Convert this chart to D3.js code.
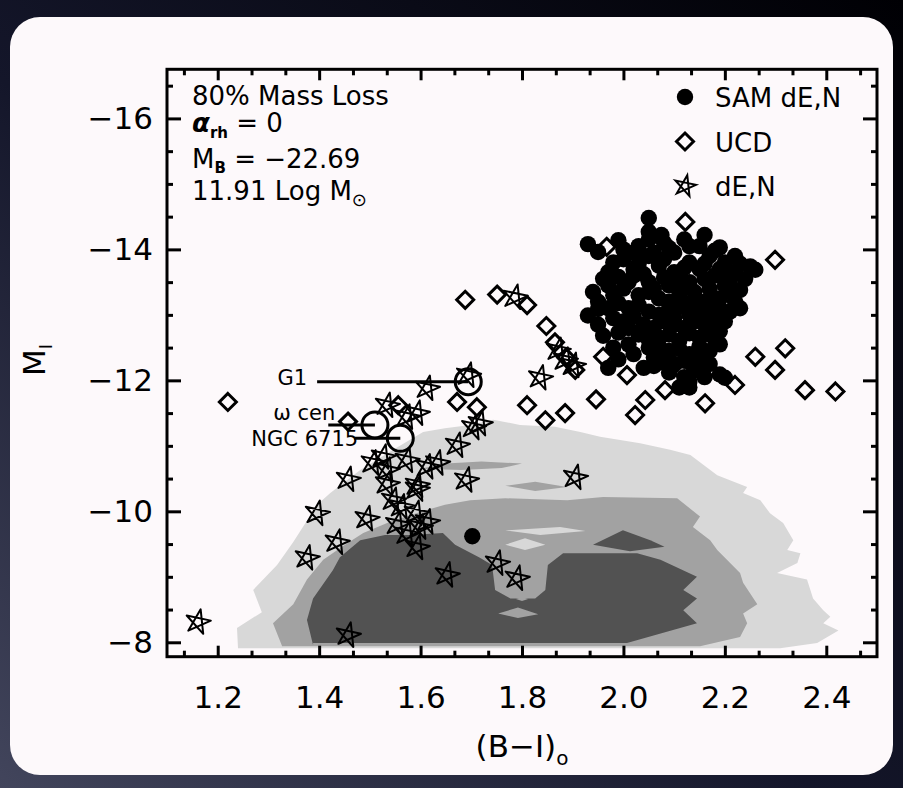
<!DOCTYPE html>
<html>
<head>
<meta charset="utf-8">
<script src="https://cdn.jsdelivr.net/npm/d3@7"></script>
<style>
  body { margin: 0; background: #000; }
  svg { display: block; }
  text { font-family: "DejaVu Sans", sans-serif; fill: #000; }
</style>
</head>
<body>
<svg id="chart" width="903" height="788"></svg>
<script>
// ---- Data: (B-I)o colour and M_I magnitude ----

// SAM nucleated dwarf ellipticals
const samDEN = [
  [2.05,-14.48],[2.05,-14.27],[2.075,-14.22],[1.99,-14.14],[1.93,-14.08],[1.95,-13.96],
  [1.98,-13.80],[2.16,-14.22],[2.19,-14.03],[2.22,-13.90],[2.25,-13.74],[2.26,-13.69],
  [2.23,-13.38],[2.21,-13.53],[1.93,-12.99],[1.95,-13.09],[1.96,-12.68],[1.99,-12.73],
  [2.01,-12.55],[1.98,-12.50],[1.97,-12.19],[2.04,-12.19],[2.06,-12.35],[2.07,-12.27],
  [2.11,-11.89],[2.13,-11.89],[2.16,-12.24],[2.18,-12.64],[2.21,-13.05],[2.19,-12.09],
  [2.20,-12.04],[1.98,-13.30],[2.02,-13.69],
  [2.03,-14.05],[2.08,-14.10],[2.12,-14.15],[2.15,-14.05],[2.10,-13.95],[2.05,-13.90],
  [2.00,-13.85],[2.17,-13.90],[2.20,-13.80],[2.13,-13.80],[2.07,-13.75],[2.02,-13.60],
  [2.10,-13.65],[2.15,-13.70],[2.18,-13.60],[2.22,-13.65],[2.05,-13.50],[2.09,-13.45],
  [2.13,-13.50],[2.17,-13.40],[2.20,-13.45],[2.00,-13.40],[2.03,-13.30],[2.07,-13.25],
  [2.11,-13.30],[2.15,-13.20],[2.19,-13.25],[2.22,-13.20],[1.97,-13.10],[2.01,-13.10],
  [2.05,-13.05],[2.09,-13.10],[2.13,-13.00],[2.17,-13.05],[2.20,-12.90],[2.00,-12.90],
  [2.04,-12.85],[2.08,-12.90],[2.12,-12.80],[2.16,-12.85],[2.19,-12.75],[2.03,-12.70],
  [2.07,-12.65],[2.11,-12.60],[2.15,-12.65],[2.05,-12.50],[2.09,-12.45],[2.13,-12.40],
  [2.17,-12.45],[2.10,-12.25],[2.14,-12.15],[2.12,-12.05],[2.08,-12.35],[2.15,-12.30],
  [2.06,-13.95],[2.11,-13.55],[2.14,-13.35],[2.06,-13.40],[2.10,-12.95],[2.02,-13.95],
  [2.05,-14.15],[2.09,-14.02],[2.13,-14.05],[2.18,-13.98],[2.03,-13.78],[2.08,-13.85],
  [2.12,-13.72],[2.16,-13.78],[2.19,-13.70],[2.24,-13.55],[1.99,-13.58],[2.04,-13.62],
  [2.08,-13.57],[2.12,-13.42],[2.16,-13.55],[2.20,-13.58],[1.97,-13.45],[2.01,-13.50],
  [2.05,-13.35],[2.09,-13.20],[2.13,-13.18],[2.17,-13.25],[2.21,-13.35],[1.95,-13.20],
  [1.99,-13.18],[2.03,-13.15],[2.07,-13.00],[2.11,-13.12],[2.15,-13.00],[2.19,-13.10],
  [2.23,-13.10],[1.98,-12.95],[2.02,-12.98],[2.06,-12.80],[2.10,-12.85],[2.14,-12.90],
  [2.18,-12.92],[2.01,-12.80],[2.05,-12.62],[2.09,-12.70],[2.13,-12.72],[2.17,-12.70],
  [2.02,-12.40],[2.07,-12.52],[2.11,-12.48],[2.15,-12.52],[2.19,-12.55],[2.06,-12.22],
  [2.12,-12.30],[2.17,-12.25],[2.09,-12.12],[2.13,-11.98],[2.16,-12.05],[1.95,-12.85],
  [1.96,-13.55],[1.97,-13.65],[1.94,-13.35],[1.99,-12.32],[2.23,-13.78],[2.00,-14.00],
  [1.702,-9.62]
];

// Ultra-compact dwarfs
const ucd = [
  [1.220,-11.67],[1.457,-11.37],[1.556,-11.62],[1.672,-11.67],[1.711,-11.59],
  [1.688,-13.23],[1.751,-13.31],[1.810,-13.15],[1.848,-12.83],[1.865,-12.58],
  [1.887,-12.35],[1.905,-12.16],[1.810,-11.62],[1.846,-11.39],[1.885,-11.50],
  [1.946,-11.71],[2.122,-14.42],[2.299,-13.84],[2.260,-12.36],[2.319,-12.49],
  [2.299,-12.16],[2.358,-11.85],[2.418,-11.83],[2.220,-11.93],[2.161,-11.65],
  [2.082,-11.85],[2.043,-11.70],[2.023,-11.47],[2.007,-12.08],[2.118,-12.11],
  [1.967,-14.04],[1.960,-12.36]
];

// Observed nucleated dwarf ellipticals
const dEN = [
  [1.694,-12.08],[1.613,-11.88],[1.534,-11.62],[1.573,-11.44],[1.593,-11.50],
  [1.704,-11.28],[1.717,-11.34],[1.672,-11.01],[1.457,-10.49],[1.506,-10.74],
  [1.526,-10.83],[1.534,-10.63],[1.573,-10.78],[1.613,-10.68],[1.633,-10.74],
  [1.593,-10.40],[1.690,-10.48],[1.396,-9.97],[1.494,-9.89],[1.546,-10.17],
  [1.562,-10.07],[1.591,-9.97],[1.613,-9.84],[1.534,-10.42],[1.593,-10.34],
  [1.554,-9.80],[1.573,-9.65],[1.593,-9.45],[1.599,-9.76],[1.435,-9.53],
  [1.376,-9.29],[1.652,-9.03],[1.751,-9.21],[1.790,-8.98],[1.161,-8.31],
  [1.457,-8.11],[1.905,-10.52],[1.836,-12.04],[1.871,-12.46],[1.885,-12.31],
  [1.901,-12.23],[1.786,-13.27]
];

// Galactic / M31 massive globular clusters
const gcNames  = ["G1", "ω cen", "NGC 6715"];
const gcColour = [1.694, 1.510, 1.560];
const gcMag    = [-11.98, -11.32, -11.115];
const gcLeadFrom = [1.396, 1.418, 1.469];

// Density contours of the simulated population (outer to inner)
const contourLight = [
  [1.240,-7.91],[1.238,-8.22],[1.287,-8.46],[1.270,-8.80],[1.317,-9.18],[1.349,-9.53],
  [1.396,-10.10],[1.422,-10.28],[1.481,-10.63],[1.546,-10.94],[1.605,-11.21],[1.648,-11.27],
  [1.698,-11.32],[1.743,-11.40],[1.796,-11.32],[1.865,-11.29],[1.915,-11.21],[1.954,-11.14],
  [2.033,-11.04],[2.092,-10.94],[2.132,-10.86],[2.185,-10.55],[2.244,-10.37],[2.236,-10.28],
  [2.270,-10.17],[2.289,-9.97],[2.315,-9.82],[2.335,-9.56],[2.323,-9.41],[2.349,-9.36],
  [2.343,-9.21],[2.303,-9.06],[2.362,-8.96],[2.374,-8.67],[2.394,-8.49],[2.408,-8.39],
  [2.394,-8.29],[2.424,-8.18],[2.382,-7.99],[2.309,-7.91]
];
const contourMid = [
  [1.327,-7.94],[1.309,-8.29],[1.349,-8.58],[1.376,-8.96],[1.408,-9.26],[1.451,-9.49],
  [1.487,-9.67],[1.540,-9.84],[1.599,-9.99],[1.648,-10.10],[1.698,-10.17],[1.767,-10.20],
  [1.889,-10.17],[1.960,-10.22],[2.106,-10.20],[2.151,-9.92],[2.137,-9.76],[2.171,-9.56],
  [2.185,-9.41],[2.230,-9.06],[2.236,-8.91],[2.264,-8.58],[2.236,-8.44],[2.244,-8.29],
  [2.230,-8.08],[2.151,-7.94]
];
const contourDark = [
  [1.388,-7.96],[1.376,-8.34],[1.388,-8.67],[1.427,-9.10],[1.441,-9.30],[1.481,-9.56],
  [1.530,-9.64],[1.579,-9.64],[1.644,-9.67],[1.668,-9.49],[1.717,-9.29],[1.741,-9.18],
  [1.747,-8.80],[1.777,-8.67],[1.826,-8.67],[1.846,-8.80],[1.851,-9.18],[1.881,-9.36],
  [1.954,-9.36],[2.027,-9.36],[2.073,-9.26],[2.145,-9.00],[2.118,-8.80],[2.145,-8.67],
  [2.118,-8.49],[2.145,-8.29],[2.007,-7.99],[1.388,-7.99]
];
const islandsMid = [
  [[1.599,-10.65],[1.650,-10.73],[1.720,-10.76],[1.800,-10.73],[1.760,-10.66],[1.680,-10.63]],
  [[1.767,-10.39],[1.826,-10.45],[1.889,-10.37],[1.826,-10.31]],
  [[1.753,-8.44],[1.792,-8.53],[1.832,-8.43],[1.792,-8.37]],
  [[1.788,-8.66],[1.800,-8.69],[1.812,-8.66],[1.800,-8.63]]
];
const islandsLight = [
  [[1.767,-9.49],[1.806,-9.59],[1.846,-9.49],[1.806,-9.41]],
  [[1.767,-9.71],[1.875,-9.76],[1.925,-9.70],[1.836,-9.64]]
];
const islandsDark = [
  [[1.940,-9.49],[1.999,-9.71],[2.053,-9.56],[2.081,-9.46],[2.013,-9.39]]
];

// Axis ticks
const xMajor = [1.2, 1.4, 1.6, 1.8, 2.0, 2.2, 2.4];
const yMajor = [-16, -14, -12, -10, -8];

// ---- Layout ----
const W = 903, H = 788;
const plot = { left: 167, right: 877, top: 69.3, bottom: 656.7 };

const svg = d3.select("#chart");
const defs = svg.append("defs");

const bg = defs.append("linearGradient").attr("id", "bg")
  .attr("x1", 1).attr("y1", 0).attr("x2", 0).attr("y2", 1);
bg.append("stop").attr("offset", 0).attr("stop-color", "#000004");
bg.append("stop").attr("offset", 0.55).attr("stop-color", "#14162a");
bg.append("stop").attr("offset", 1).attr("stop-color", "#42455c");
svg.append("rect").attr("width", W).attr("height", H).attr("fill", "url(#bg)");
svg.append("rect").attr("x", 10).attr("y", 17).attr("width", 883).attr("height", 758)
  .attr("rx", 30).attr("fill", "#fdf9fb");

defs.append("clipPath").attr("id", "plotClip").append("rect")
  .attr("x", plot.left).attr("y", plot.top)
  .attr("width", plot.right - plot.left).attr("height", plot.bottom - plot.top);

const x = d3.scaleLinear().domain([1.1, 2.5]).range([plot.left, plot.right]);
const y = d3.scaleLinear().domain([-7.78, -16.75]).range([plot.bottom, plot.top]);

// ---- Contours ----
const area = d3.line().x(d => x(d[0])).y(d => y(d[1])).curve(d3.curveLinearClosed);
const cg = svg.append("g").attr("clip-path", "url(#plotClip)");
const LIGHT = "#d8d8d8", MID = "#a2a2a2", DARK = "#525252";
cg.append("path").attr("d", area(contourLight)).attr("fill", LIGHT);
cg.selectAll(".mi").data([islandsMid[0], islandsMid[1]]).join("path").attr("d", area).attr("fill", MID);
cg.append("path").attr("d", area(contourMid)).attr("fill", MID);
cg.selectAll(".li").data(islandsLight).join("path").attr("d", area).attr("fill", LIGHT);
cg.append("path").attr("d", area(contourDark)).attr("fill", DARK);
cg.selectAll(".di").data(islandsDark).join("path").attr("d", area).attr("fill", DARK);
cg.selectAll(".mi2").data([islandsMid[2], islandsMid[3]]).join("path").attr("d", area).attr("fill", MID);

// ---- Symbols ----
function starPath(R, rot) {
  const pts = d3.range(5).map(k => {
    const a = (-90 + rot + k * 72) * Math.PI / 180;
    return [R * Math.cos(a), R * Math.sin(a)];
  });
  const order = [0, 2, 4, 1, 3];
  return "M" + order.map(i => pts[i].map(v => v.toFixed(2)).join(",")).join("L") + "Z";
}
function diamondPath(h) {
  return `M0,${-h}L${h},0L0,${h}L${-h},0Z`;
}
const STAR = starPath(13, 12);
const DIAM = diamondPath(8.5);

const mg = svg.append("g").attr("clip-path", "url(#plotClip)");
mg.selectAll(".star").data(dEN).join("path")
  .attr("transform", d => `translate(${x(d[0])},${y(d[1])})`)
  .attr("d", STAR).attr("fill", "none").attr("stroke", "#000")
  .attr("stroke-width", 2).attr("stroke-linejoin", "round");
mg.selectAll(".ucd").data(ucd).join("path")
  .attr("transform", d => `translate(${x(d[0])},${y(d[1])})`)
  .attr("d", DIAM).attr("fill", "none").attr("stroke", "#000").attr("stroke-width", 3);
mg.selectAll(".sam").data(samDEN).join("circle")
  .attr("cx", d => x(d[0])).attr("cy", d => y(d[1])).attr("r", 8.2).attr("fill", "#000");

// Globular clusters with leader lines
const gcLabelDx = [-10, 7, 4];
const gcLabelDy = [3.3, -4.5, 7.5];
gcNames.forEach((name, i) => {
  const cx = x(gcColour[i]), cy = y(gcMag[i]), x0 = x(gcLeadFrom[i]);
  svg.append("line").attr("x1", x0).attr("x2", cx).attr("y1", cy).attr("y2", cy)
    .attr("stroke", "#000").attr("stroke-width", 3);
  svg.append("circle").attr("cx", cx).attr("cy", cy).attr("r", 13)
    .attr("fill", "none").attr("stroke", "#000").attr("stroke-width", 3);
  svg.append("text").attr("x", x0 + gcLabelDx[i]).attr("y", cy + gcLabelDy[i])
    .attr("text-anchor", "end").attr("font-size", 21).text(name);
});

// ---- Axes (ticks inside on all four sides) ----
function styleAxis(g) {
  g.select(".domain").remove();
  g.selectAll(".tick line").attr("stroke", "#000").attr("stroke-width", 3);
  g.selectAll(".tick text").attr("font-size", 31).attr("fill", "#000");
}
const xMinor = d3.range(-1, 21).map(i => 1.2 + i * 0.2 / 3)
  .filter(v => v > 1.101 && v < 2.499 && !xMajor.some(m => Math.abs(m - v) < 1e-6));
const yMinor = d3.range(-16.5, -7.9, 0.5).filter(v => !yMajor.includes(v));

svg.append("g").attr("transform", `translate(0,${plot.bottom})`)
  .call(d3.axisBottom(x).tickValues(xMajor).tickFormat(d3.format(".1f"))
    .tickSize(-11).tickSizeOuter(0).tickPadding(29)).call(styleAxis);
svg.append("g").attr("transform", `translate(0,${plot.bottom})`)
  .call(d3.axisBottom(x).tickValues(xMinor).tickFormat("").tickSize(-6).tickSizeOuter(0)).call(styleAxis);
svg.append("g").attr("transform", `translate(0,${plot.top})`)
  .call(d3.axisTop(x).tickValues(xMajor).tickFormat("").tickSize(-11).tickSizeOuter(0)).call(styleAxis);
svg.append("g").attr("transform", `translate(0,${plot.top})`)
  .call(d3.axisTop(x).tickValues(xMinor).tickFormat("").tickSize(-6).tickSizeOuter(0)).call(styleAxis);

svg.append("g").attr("transform", `translate(${plot.left},0)`)
  .call(d3.axisLeft(y).tickValues(yMajor).tickFormat(d3.format("d"))
    .tickSize(-14).tickSizeOuter(0).tickPadding(14)).call(styleAxis);
svg.append("g").attr("transform", `translate(${plot.left},0)`)
  .call(d3.axisLeft(y).tickValues(yMinor).tickFormat("").tickSize(-6).tickSizeOuter(0)).call(styleAxis);
svg.append("g").attr("transform", `translate(${plot.right},0)`)
  .call(d3.axisRight(y).tickValues(yMajor).tickFormat("").tickSize(-14).tickSizeOuter(0)).call(styleAxis);
svg.append("g").attr("transform", `translate(${plot.right},0)`)
  .call(d3.axisRight(y).tickValues(yMinor).tickFormat("").tickSize(-6).tickSizeOuter(0)).call(styleAxis);

svg.append("rect").attr("x", plot.left).attr("y", plot.top)
  .attr("width", plot.right - plot.left).attr("height", plot.bottom - plot.top)
  .attr("fill", "none").attr("stroke", "#000").attr("stroke-width", 3);

// ---- Axis titles ----
const xt = svg.append("text").attr("x", (plot.left + plot.right) / 2).attr("y", 757)
  .attr("text-anchor", "middle").attr("font-size", 31);
xt.append("tspan").text("(B−I)");
xt.append("tspan").attr("font-size", 20).attr("dy", 8).text("o");

const yt = svg.append("text").attr("transform", "translate(45,360) rotate(-90)")
  .attr("text-anchor", "middle").attr("font-size", 31);
yt.append("tspan").text("M");
yt.append("tspan").attr("font-size", 18).attr("dy", 7).text("I");

// ---- Model annotation ----
const ann = svg.append("g").attr("font-size", 26);
ann.append("text").attr("x", 192).attr("y", 105).attr("font-size", 26).text("80% Mass Loss");
const l2 = ann.append("text").attr("x", 192).attr("y", 132).attr("font-size", 26);
l2.append("tspan").attr("font-style", "italic").attr("font-weight", "bold").text("α");
l2.append("tspan").attr("font-size", 15).attr("font-weight", "bold").attr("dy", 6).text("rh");
l2.append("tspan").attr("dy", -6).text(" = 0");
const l3 = ann.append("text").attr("x", 192).attr("y", 168).attr("font-size", 26);
l3.append("tspan").text("M");
l3.append("tspan").attr("font-size", 15).attr("font-weight", "bold").attr("dy", 5).text("B");
l3.append("tspan").attr("dy", -5).text(" = −22.69");
const l4 = ann.append("text").attr("x", 192).attr("y", 200).attr("font-size", 26);
l4.append("tspan").text("11.91 Log M");
l4.append("tspan").attr("font-size", 18).attr("dy", 6).text("⊙");

// ---- Legend ----
const legend = [
  { label: "SAM dE,N", kind: "sam" },
  { label: "UCD", kind: "ucd" },
  { label: "dE,N", kind: "star" }
];
const lg = svg.append("g");
legend.forEach((d, i) => {
  const cy = 97 + i * 44.5;
  if (d.kind === "sam") lg.append("circle").attr("cx", 685).attr("cy", cy).attr("r", 8.2).attr("fill", "#000");
  if (d.kind === "ucd") lg.append("path").attr("transform", `translate(685,${cy})`).attr("d", DIAM)
    .attr("fill", "none").attr("stroke", "#000").attr("stroke-width", 3);
  if (d.kind === "star") lg.append("path").attr("transform", `translate(685,${cy})`).attr("d", starPath(11, 12))
    .attr("fill", "none").attr("stroke", "#000").attr("stroke-width", 2);
  lg.append("text").attr("x", 715).attr("y", cy + 10).attr("font-size", 26).text(d.label);
});
</script>
</body>
</html>
